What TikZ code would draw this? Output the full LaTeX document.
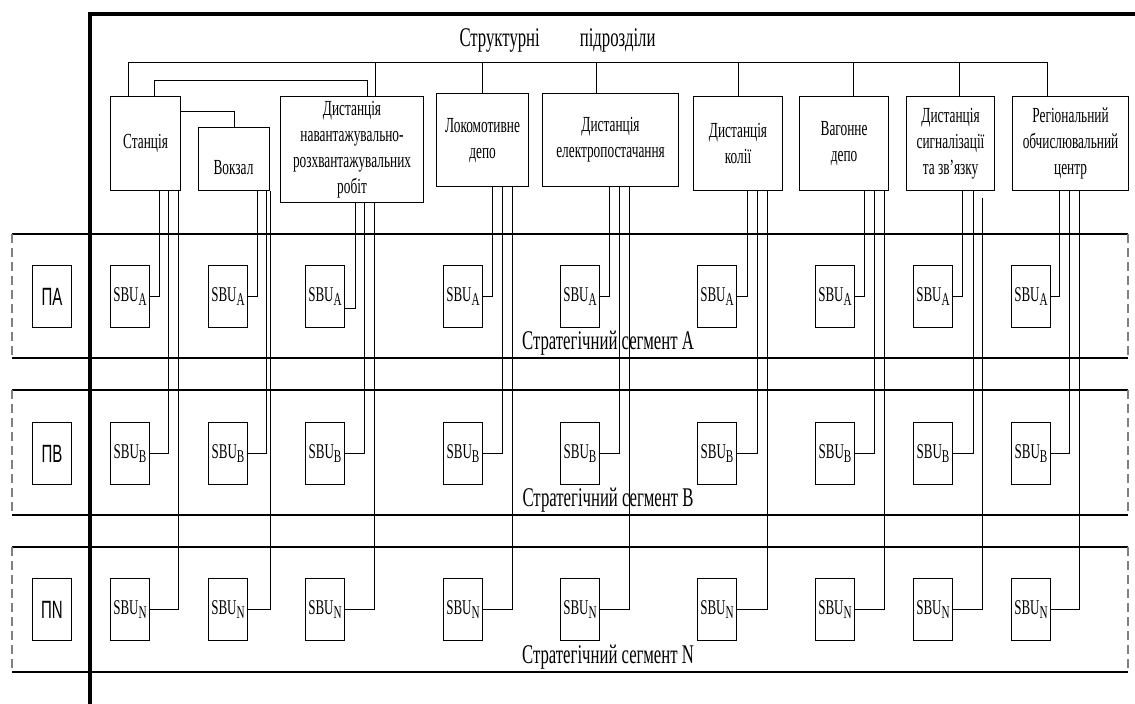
\documentclass[tikz,border=0pt]{standalone}
\usepackage{fontspec}
\setmainfont{Liberation Serif}[FakeStretch=0.62]
\newfontfamily\psans{Liberation Sans}[FakeStretch=0.6]
\newcommand{\mysbu}[1]{SBU\raisebox{-4pt}{\fontsize{18}{18}\selectfont #1}}
\begin{document}
\begin{tikzpicture}[x=1pt,y=-1pt,
  unit/.style={draw,line width=1.1pt,align=center,inner sep=2pt,anchor=north west,font=\fontsize{21.5}{26}\selectfont},
  unittext/.style={inner sep=0pt,font=\fontsize{21.5}{26}\selectfont},
  sbu/.style={draw,line width=1pt,minimum width=39pt,minimum height=62pt,anchor=north west,inner sep=0pt,font=\fontsize{21}{25}\selectfont},
  pbox/.style={draw,line width=1pt,minimum width=39pt,minimum height=62pt,anchor=north west,inner sep=0pt,font=\psans\fontsize{25}{28}\selectfont},
  conn/.style={line width=0.9pt},
  bandline/.style={line width=1.2pt},
  dashside/.style={line width=1.1pt,gray,dash pattern=on 9pt off 5pt},
  seglabel/.style={font=\fontsize{27}{30}\selectfont},
  titlelabel/.style={font=\fontsize{27}{30}\selectfont}]
\useasboundingbox (0,0) rectangle (1135,704);
% bands
\foreach \t/\b in {234/358, 390/515, 547/672} {
  \draw[bandline] (12,\t) -- (1128,\t);
  \draw[bandline] (12,\b) -- (1128,\b);
  \draw[dashside] (12,\t) -- (12,\b);
  \draw[dashside] (1128,\t) -- (1128,\b);
}
% frame
\draw[line width=3.5pt] (90,704) -- (90,14) -- (1135,14);
% title
\node[titlelabel] (title) at (557.5,40) {Структурні\hspace{40pt}підрозділи};
% units
\node[unit,minimum width=70pt,minimum height=94pt] (u1) at (110,96) {Станція};
\node[unit,minimum width=71pt,minimum height=63pt] (u2) at (198,127) {};
\node[unittext] (u2t) at (233.5,168) {Вокзал};
\node[unit,minimum width=143pt,minimum height=106pt] (u3) at (280,96) {Дистанція\\навантажувально-\\розхвантажувальних\\робіт};
\node[unit,minimum width=92pt,minimum height=93pt] (u4) at (436,93) {Локомотивне\\депо};
\node[unit,minimum width=136pt,minimum height=93pt] (u5) at (542,93) {Дистанція\\електропостачання};
\node[unit,minimum width=89pt,minimum height=94pt] (u6) at (693,96) {Дистанція\\колії};
\node[unit,minimum width=89pt,minimum height=94pt] (u7) at (799,96) {Вагонне\\депо};
\node[unit,minimum width=88pt,minimum height=94pt] (u8) at (906,96) {Дистанція\\сигналізації\\та зв'язку};
\node[unit,minimum width=116pt,minimum height=94pt] (u9) at (1012,96) {Регіональний\\обчислювальний\\центр};
% SBU boxes
\foreach \i/\x in {1/110, 2/208, 3/305, 4/443, 5/560, 6/697, 7/815, 8/913, 9/1011} {
  \node[sbu] (a\i) at (\x,265) {\mysbu{A}};
  \node[sbu] (b\i) at (\x,422) {\mysbu{B}};
  \node[sbu] (n\i) at (\x,578) {\mysbu{N}};
}
% P boxes
\node[pbox] (pa) at (32,265) {ПА};
\node[pbox] (pb) at (32,422) {ПВ};
\node[pbox] (pn) at (32,578) {ПN};
% segment labels
\node[seglabel] (sa) at (608,343) {Стратегічний сегмент A};
\node[seglabel] (sb) at (608,500) {Стратегічний сегмент B};
\node[seglabel] (sn) at (608,657) {Стратегічний сегмент N};
% bus
\coordinate (bus) at (0,62);
\coordinate (bus2) at (0,80);
\foreach \k/\x in {1/128, 3/375, 4/482, 5/596, 6/738, 7/853, 8/959, 9/1047}
  \coordinate (d\k) at (\x,0);
\coordinate (e1) at (154,0);
\coordinate (e2) at (367,0);
\draw[conn] (u1.north -| d1) |- (bus -| d9) -- (u9.north -| d9);
\foreach \k in {3,4,5,6,7,8}
  \draw[conn] (bus -| d\k) -- (u\k.north -| d\k);
\draw[conn] (u1.north -| e1) |- (bus2 -| e2) -- (u3.north -| e2);
\draw[conn] ([yshift=-15pt]u1.north east) -| (u2.north);
% verticals to SBU
\foreach \i/\xa/\xb/\xn/\ya/\sn in {1/159/168/178/0/0, 2/257/266/270/0/0, 3/355/364/374/-12/0,
    4/492/502/512/0/0, 5/609/619/629/0/0, 6/747/757/767/0/0, 7/864/874/884/0/0,
    8/962/973/982/0/-7, 9/1059/1069/1079/0/0} {
  \coordinate (ca\i) at (\xa,0);
  \coordinate (cb\i) at (\xb,0);
  \coordinate (cn\i) at (\xn,0);
  \draw[conn] (u\i.south -| ca\i) |- ([yshift=\ya pt]a\i.east);
  \draw[conn] (u\i.south -| cb\i) |- (b\i.east);
  \draw[conn] ([yshift=\sn pt]u\i.south -| cn\i) |- (n\i.east);
}
\end{tikzpicture}
\end{document}
